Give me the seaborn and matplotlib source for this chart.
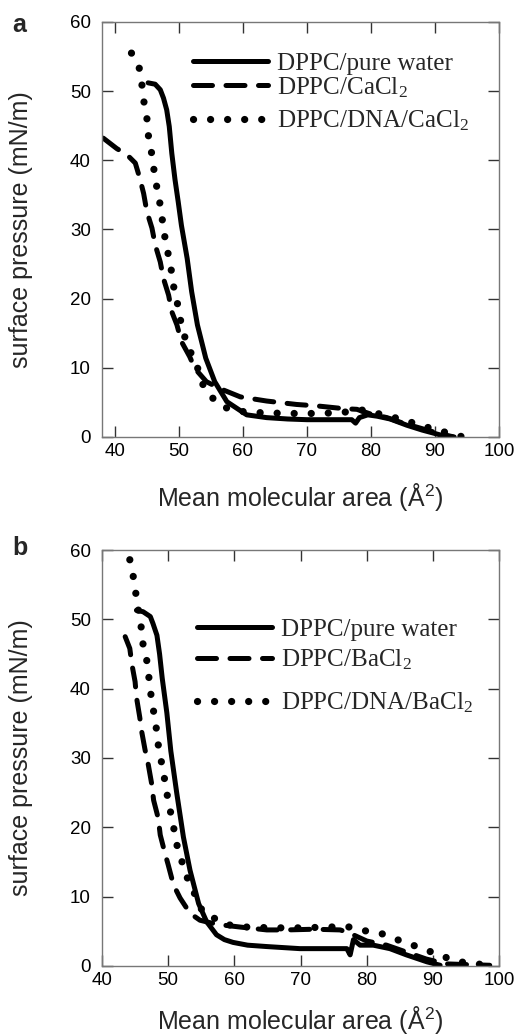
import matplotlib
matplotlib.use("Agg")
import matplotlib.pyplot as plt
import seaborn as sns
import pandas as pd

# ---------------- data ----------------
# Panel a
water_a_x = [45.2, 46.3, 47.1, 47.6, 48.1, 48.5, 48.9, 49.4, 49.9, 50.4, 51.3, 52.0, 52.9, 54.2,
             55.6, 57.5, 60.6, 63.7, 67.0, 70.0, 74.0, 77.0, 77.6, 78.2, 79.5, 81.0, 83.0, 85.6,
             88.0, 90.8, 92.8]
water_a_y = [51.2, 51.0, 50.2, 49.0, 47.3, 44.9, 41.0, 37.2, 34.0, 30.6, 25.8, 21.0, 16.2, 11.4,
             8.0, 5.1, 3.2, 2.8, 2.6, 2.5, 2.5, 2.5, 2.0, 2.8, 3.2, 3.0, 2.6, 1.7,
             1.0, 0.3, 0.0]

ca_x = [38.2, 40.3, 41.9, 43.2, 43.9, 44.5, 45.0, 45.8, 46.3, 47.1, 47.6, 48.4, 48.9, 49.7, 50.4,
        51.7, 52.5, 54.3, 56.4, 59.6, 63.7, 68.4, 71.5, 75.7, 77.8, 80.0, 82.5, 85.0, 88.0, 91.0, 93.0]
ca_y = [43.2, 41.7, 40.8, 39.6, 37.4, 35.2, 32.6, 30.2, 27.8, 25.3, 22.9, 20.5, 18.1, 16.2, 13.8,
        11.6, 9.9, 8.0, 7.0, 5.8, 5.2, 4.7, 4.5, 4.1, 4.0, 3.3, 2.8, 2.0, 1.2, 0.4, 0.0]

dna_ca_x = [42.6, 43.8, 44.2, 44.5, 45.0, 45.2, 45.7, 46.1, 46.5, 47.0, 47.4, 47.8, 48.3, 48.8,
            49.2, 49.8, 50.3, 51.2, 52.8, 53.6, 55.1, 56.4, 58.0, 59.6, 63.0, 67.0, 71.0, 75.0,
            78.8, 81.9, 85.0, 87.7, 90.3, 92.4, 94.2]
dna_ca_y = [55.5, 53.4, 51.2, 48.7, 46.2, 43.8, 41.3, 38.7, 36.4, 34.0, 31.5, 29.0, 26.6, 24.2,
            21.7, 19.2, 16.7, 13.5, 10.4, 7.8, 5.8, 4.6, 4.0, 3.7, 3.5, 3.4, 3.4, 3.5,
            3.9, 3.2, 2.5, 1.7, 1.0, 0.5, 0.05]

# Panel b
water_b_x = [45.2, 46.2, 47.3, 47.7, 48.3, 48.7, 49.1, 49.8, 50.4, 51.3, 52.3, 53.3, 54.6, 55.8,
             57.3, 58.5, 59.8, 62.0, 64.9, 69.9, 74.0, 77.0, 77.5, 78.0, 79.0, 81.0, 83.5, 86.0,
             89.1, 91.1]
water_b_y = [51.3, 51.1, 50.4, 49.4, 47.7, 45.0, 41.5, 36.5, 31.0, 24.9, 18.6, 13.8, 9.0, 6.4,
             4.5, 3.8, 3.4, 3.0, 2.8, 2.5, 2.5, 2.5, 1.6, 3.8, 3.0, 3.0, 2.5, 1.6,
             0.6, 0.1]

ba_x = [43.5, 44.2, 44.5, 45.0, 45.2, 45.7, 46.0, 46.5, 47.0, 47.5, 47.8, 48.5, 48.8, 49.5, 50.0,
        50.8, 51.8, 53.3, 54.8, 56.5, 58.3, 61.0, 64.9, 68.0, 72.0, 76.0, 77.5, 80.0, 83.0, 86.0,
        89.0, 92.0, 95.1, 98.6]
ba_y = [47.5, 45.8, 43.6, 41.0, 38.8, 35.9, 33.8, 31.2, 29.0, 26.3, 23.9, 21.3, 18.9, 16.3, 14.6,
        11.7, 9.8, 7.6, 6.6, 6.2, 5.9, 5.6, 5.2, 5.2, 5.3, 5.2, 4.7, 3.6, 3.0, 2.0,
        1.0, 0.3, 0.2, 0.1]

dna_ba_x = [44.2, 44.7, 45.1, 45.5, 45.9, 46.2, 46.8, 47.1, 47.4, 47.8, 48.2, 48.5, 49.0, 49.5,
            49.9, 50.4, 50.9, 51.4, 52.2, 53.0, 54.1, 55.3, 56.6, 58.5, 62.0, 66.0, 70.0, 74.0,
            77.0, 79.0, 80.8, 82.5, 84.0, 85.5, 87.0, 88.8, 90.6, 92.3, 94.1, 96.5, 99.0]
dna_ba_y = [58.6, 56.3, 53.8, 51.3, 49.0, 46.4, 43.9, 41.5, 39.1, 36.7, 34.3, 31.9, 29.3, 26.7,
            24.4, 22.0, 19.6, 17.1, 14.7, 12.4, 10.2, 7.6, 7.1, 6.0, 5.6, 5.5, 5.5, 5.6,
            5.7, 5.2, 4.9, 4.6, 4.0, 3.5, 3.0, 2.3, 1.8, 1.1, 0.6, 0.3, 0.1]

labels_a = ["DPPC/pure water", "DPPC/CaCl$_2$", "DPPC/DNA/CaCl$_2$"]
labels_b = ["DPPC/pure water", "DPPC/BaCl$_2$", "DPPC/DNA/BaCl$_2$"]
x_ticks = [40, 50, 60, 70, 80, 90, 100]
y_ticks = [0, 10, 20, 30, 40, 50, 60]

# ---------------- style ----------------
sns.set_theme(style="ticks")
plt.rcParams["font.family"] = ["Liberation Sans", "DejaVu Sans"]
plt.rcParams["mathtext.default"] = "regular"

SOLID = dict(color="black", lw=3.6, linestyle="-", solid_capstyle="round")
DASH = dict(color="black", lw=3.6, linestyle=(0, (3.8, 2.7)), dash_capstyle="round")
DOT = dict(color="black", lw=5.2, linestyle=(0, (0.01, 2.35)), dash_capstyle="round")

fig = plt.figure(figsize=(5.16, 10.36), dpi=100)
ax1 = fig.add_axes([0.1977, 0.5782, 0.7694, 0.4006])
ax2 = fig.add_axes([0.1977, 0.0676, 0.7694, 0.4015])

LEG = dict(loc="upper left", frameon=False, borderpad=0, borderaxespad=0,
           handlelength=3.0, handletextpad=0.35,
           prop={"family": "Liberation Serif", "size": 18})


def draw(ax, series, labels, xlim, leg_x, leg_top1, spacing, leg_top2, xlab_y):
    for (xs, ys), lab, st in zip(series, labels, [SOLID, DASH, DOT]):
        df = pd.DataFrame({"x": xs, "y": ys})
        sns.lineplot(data=df, x="x", y="y", ax=ax, sort=False, estimator=None,
                     label=lab, **st)
    ax.set_xlim(*xlim)
    ax.set_ylim(0, 60)
    ax.set_xticks(x_ticks)
    ax.set_yticks(y_ticks)
    ax.tick_params(direction="in", top=True, right=True, length=8, width=1,
                   color="#333333", labelsize=13.5, labelcolor="black")
    ax.tick_params(axis="x", pad=4)
    ax.tick_params(axis="y", pad=8)
    for sp in ax.spines.values():
        sp.set_color("#777777")
        sp.set_linewidth(1.0)
    ax.set_xlabel("Mean molecular area (Å$^2$)", fontsize=18)
    ax.set_ylabel("surface pressure (mN/m)", fontsize=18)
    ax.xaxis.set_label_coords(0.5, xlab_y)
    ax.yaxis.set_label_coords(-0.175, 0.5)
    handles, labs = ax.get_legend_handles_labels()
    leg1 = ax.legend(handles[:2], labs[:2], bbox_to_anchor=(leg_x, leg_top1),
                     labelspacing=spacing, **LEG)
    ax.add_artist(leg1)
    ax.legend(handles[2:], labs[2:], bbox_to_anchor=(leg_x, leg_top2), **LEG)


draw(ax1, [(water_a_x, water_a_y), (ca_x, ca_y), (dna_ca_x, dna_ca_y)], labels_a,
     (38, 100), 0.229, 0.9265, 0.0, 0.7916, -0.106)
draw(ax2, [(water_b_x, water_b_y), (ba_x, ba_y), (dna_ba_x, dna_ba_y)], labels_b,
     (40, 100), 0.239, 0.8353, 0.26, 0.662, -0.0913)

fig.text(12 / 516, 1 - 32 / 1036, "a", fontsize=18, fontweight="bold", ha="left", va="baseline")
fig.text(12 / 516, 1 - 555 / 1036, "b", fontsize=18, fontweight="bold", ha="left", va="baseline")

fig.savefig("out.png", dpi=100)
